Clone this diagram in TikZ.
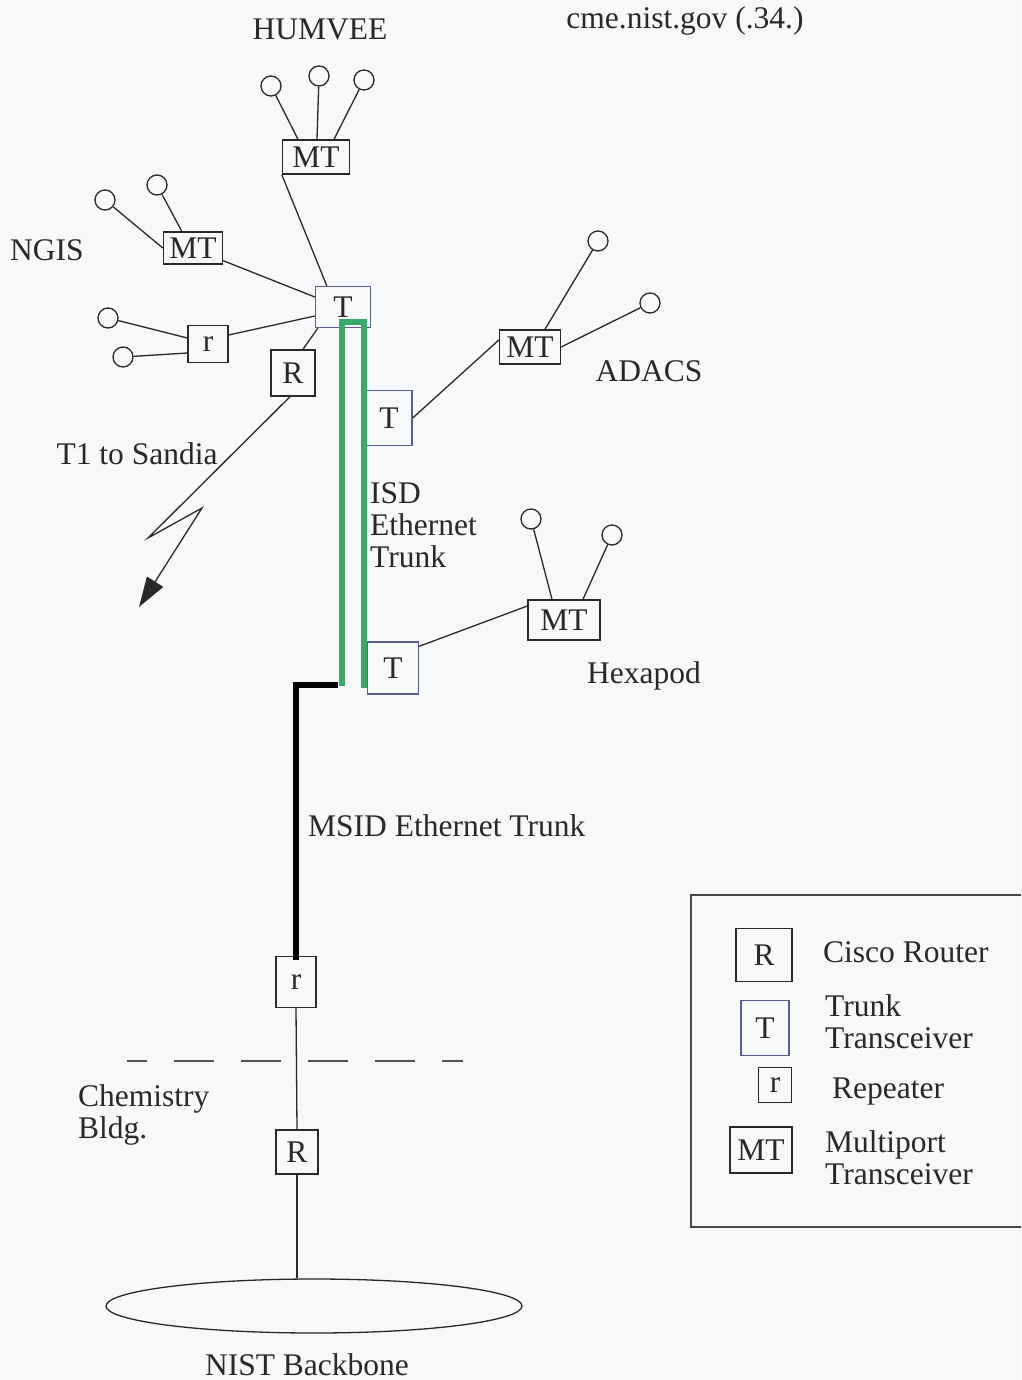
\documentclass[tikz,border=0pt]{standalone}
\usepackage{fontspec}
\setmainfont{Liberation Serif}
\usetikzlibrary{arrows.meta,shapes.geometric}
\definecolor{paper}{RGB}{247,248,250}
\definecolor{ink}{RGB}{40,40,40}
\definecolor{trunkblue}{RGB}{90,90,140}
\definecolor{isdgreen}{RGB}{58,168,105}

\begin{document}
\begin{tikzpicture}[x=1pt, y=-1pt,
      font=\fontsize{31.5}{32}\selectfont,
      unit/.style={draw=ink, line width=1.4pt, inner sep=0pt, text=ink},
      mtbox/.style={unit, minimum width=64pt, minimum height=35pt},
      tbox/.style={unit, draw=trunkblue, minimum width=49pt, minimum height=54pt},
      routerbox/.style={unit, minimum width=44pt, minimum height=45pt},
      repbox/.style={unit, minimum width=40pt, minimum height=38pt},
      station/.style={circle, draw=ink, line width=1.3pt, minimum size=20pt, inner sep=0pt},
      wire/.style={draw=ink, line width=1.3pt},
      isd/.style={draw=isdgreen, line width=6pt},
      msid/.style={draw=black, line width=6pt},
      netlabel/.style={inner sep=0pt, text=ink},
      >={Triangle[length=30pt,width=19pt]}
    ]

    \fill[paper] (0,0) rectangle (1021,1380);

    %-----------------------------
    % 1) HUMVEE
    %-----------------------------
    \node[netlabel, anchor=base] (humvee) at (320,40) {HUMVEE};
    \node[netlabel, anchor=base] (cme) at (685,29) {cme.nist.gov (.34.)};
    \node[mtbox, minimum width=67pt, minimum height=34pt] (hmt) at (316,157) {MT};
    \node[station] (h1) at (271,86) {};
    \node[station] (h2) at (319,76) {};
    \node[station] (h3) at (364,80) {};
    \draw[wire] (h1) -- ([xshift=-18pt]hmt.north);
    \draw[wire] (h2) -- ([xshift=1pt]hmt.north);
    \draw[wire] (h3) -- ([xshift=18pt]hmt.north);

    % trunk transceiver on the ISD trunk
    \node[tbox, minimum width=55pt, minimum height=41pt] (t1) at (343,307) {T};
    \draw[wire] (hmt.south west) -- ([xshift=12pt]t1.north west);

    %-----------------------------
    % 2) NGIS
    %-----------------------------
    \node[netlabel, anchor=base] (ngis) at (47,260) {NGIS};
    \node[mtbox, minimum width=59pt, minimum height=32pt] (nmt) at (193,248) {MT};
    \node[station] (n1) at (105,200) {};
    \node[station] (n2) at (157,185) {};
    \draw[wire] (n1) -- (nmt.west);
    \draw[wire] (n2) -- ([xshift=19pt]nmt.north west);
    \draw[wire] ([yshift=4pt]nmt.south east) -- ([yshift=10pt]t1.west);

    % repeater with two stations
    \node[repbox, minimum height=37pt] (rep1) at (208,344) {r};
    \node[station] (r1) at (108,318) {};
    \node[station] (r2) at (123,357) {};
    \draw[wire] (r1) -- ([yshift=6pt]rep1.west);
    \draw[wire] (r2) -- ([yshift=-9pt]rep1.west);
    \draw[wire] ([yshift=9pt]rep1.east) -- ([yshift=-9pt]t1.west);

    %-----------------------------
    % 3) T1 to Sandia
    %-----------------------------
    \node[routerbox, minimum height=46pt] (rt1) at (293,373) {R};
    \draw[wire] ([xshift=3pt]t1.south west) -- ([xshift=10pt]rt1.north);
    \node[netlabel, anchor=base] (sandia) at (137,464) {T1 to Sandia};
    \coordinate (zz1) at (148,538);
    \coordinate (zz2) at (202,508);
    \coordinate (zztip) at (139,607);
    \draw[wire, ->] ([xshift=-3pt]rt1.south) -- (zz1) -- (zz2) -- (zztip);

    %-----------------------------
    % 4) ADACS
    %-----------------------------
    \node[tbox, minimum width=46pt, minimum height=55pt] (t2) at (389,418) {T};
    \node[mtbox, minimum width=61pt, minimum height=34pt] (amt) at (530,347) {MT};
    \node[station] (a1) at (598,241) {};
    \node[station] (a2) at (650,303) {};
    \draw[wire] (t2.east) -- ([yshift=7pt]amt.west);
    \draw[wire] (a1) -- ([xshift=15pt]amt.north);
    \draw[wire] (a2) -- (amt.east);
    \node[netlabel, anchor=base] (adacs) at (649,381) {ADACS};

    %-----------------------------
    % 5) Hexapod
    %-----------------------------
    \node[tbox, minimum width=51pt, minimum height=52pt] (t3) at (393,668) {T};
    \node[mtbox, minimum width=72pt, minimum height=40pt] (xmt) at (564,620) {MT};
    \node[station] (x1) at (531,519) {};
    \node[station] (x2) at (612,535) {};
    \draw[wire] (x1) -- ([xshift=-12pt]xmt.north);
    \draw[wire] (x2) -- ([xshift=19pt]xmt.north);
    \draw[wire] ([yshift=-5pt]t3.north east) -- ([yshift=14pt]xmt.west);
    \node[netlabel, anchor=base] (hexapod) at (644,683) {Hexapod};

    %-----------------------------
    % 6) ISD trunk (green)
    %-----------------------------
    \coordinate (isdL) at (342,686);
    \coordinate (isdTL) at (342,322);
    \coordinate (isdTR) at (364,322);
    \coordinate (isdR) at (364,688);
    \draw[isd] (isdL) -- (isdTL) -- (isdTR) -- (isdR);
    \node[netlabel, anchor=north west, align=left] (isdlabel) at (370,482)
      {ISD\\Ethernet\\Trunk};

    %-----------------------------
    % 7) MSID trunk and Chemistry Bldg.
    %-----------------------------
    \node[repbox, minimum height=51pt] (rep2) at (296,982) {r};
    \coordinate (msidA) at (338,685);
    \draw[msid] (msidA) -| ([yshift=-4pt]rep2.north);
    \node[netlabel, anchor=base west] (msidlabel) at (308,836) {MSID Ethernet Trunk};

    \draw[line width=1.3pt, draw=ink!80, dash pattern=on 40pt off 27pt, dash phase=20pt]
      (127,1061) -- (463,1061);
    \node[netlabel, anchor=north west, align=left] (chem) at (78,1084)
      {Chemistry\\Bldg.};

    \node[routerbox, minimum width=42pt, minimum height=44pt] (rt2) at (297,1152) {R};
    \draw[wire] (rep2.south) -- (rt2.north);

    %-----------------------------
    % 8) NIST backbone
    %-----------------------------
    \node[ellipse, draw=ink, line width=1.3pt, minimum width=416pt, minimum height=54pt,
          inner sep=0pt] (backbone) at (314,1306) {};
    \draw[wire] (rt2.south) -- (rt2.south |- backbone.north);
    \node[netlabel, anchor=base] (nist) at (307,1375) {NIST Backbone};

    %-----------------------------
    % Legend
    %-----------------------------
    \draw[line width=1.4pt, draw=ink!85] (1021,895) -- (691,895) -- (691,1227) -- (1021,1227);
    \node[routerbox, minimum width=56pt, minimum height=53pt] (legR) at (764,955) {R};
    \node[netlabel, anchor=base west] at (823,962) {Cisco Router};
    \node[tbox, minimum width=48pt, minimum height=55pt] (legT) at (765,1028) {T};
    \node[netlabel, anchor=north west, align=left] at (825,994) {Trunk\\Transceiver};
    \node[repbox, minimum width=33pt, minimum height=35pt] (legr) at (775,1085) {r};
    \node[netlabel, anchor=base west] at (832,1098) {Repeater};
    \node[mtbox, minimum width=62pt, minimum height=46pt] (legMT) at (761,1150) {MT};
    \node[netlabel, anchor=north west, align=left] at (825,1130) {Multiport\\Transceiver};

  \end{tikzpicture}
\end{document}
